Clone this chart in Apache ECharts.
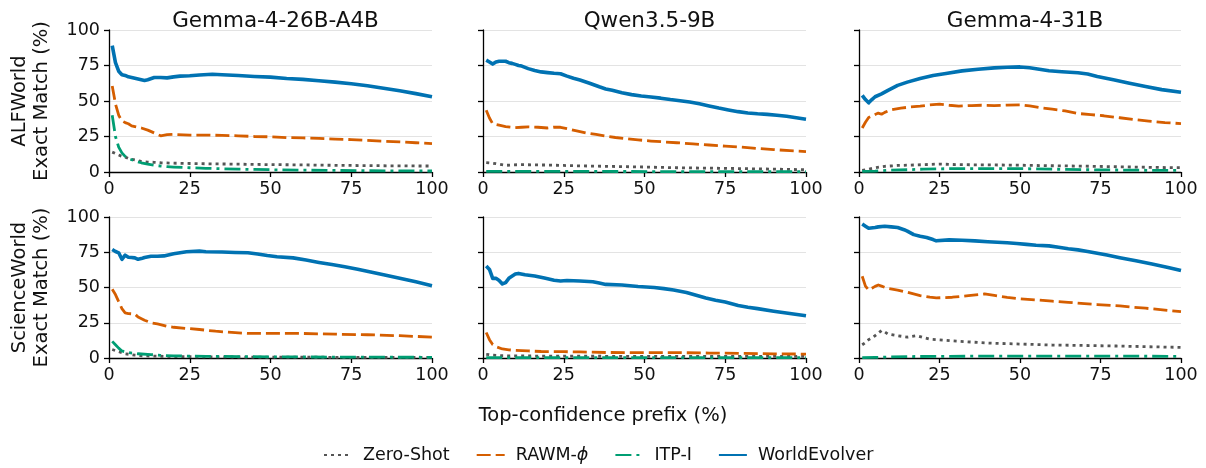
<!DOCTYPE html>
<html>
<head>
<meta charset="utf-8">
<script src="https://cdn.jsdelivr.net/npm/echarts@6/dist/echarts.min.js"></script>
<style>
html,body{margin:0;padding:0;background:#fff;}
#chart{width:1206px;height:468px;}
</style>
</head>
<body>
<div id="chart"></div>
<script>
// ---------- labels ----------
const models = ['Gemma-4-26B-A4B', 'Qwen3.5-9B', 'Gemma-4-31B'];
const envYLabels = ['ALFWorld\nExact Match (%)', 'ScienceWorld\nExact Match (%)'];
const methodNames = ['Zero-Shot', 'RAWM-\u03d5', 'ITP-I', 'WorldEvolver'];
const xTicks = [0, 25, 50, 75, 100];
const yTicks = [0, 25, 50, 75, 100];
const xTitle = 'Top-confidence prefix (%)';

// ---------- ALFWorld / Gemma-4-26B-A4B ----------
const alf26_zero = [[1,14],[2,13],[3,12],[4,11],[5,10.5],[6,9.5],[8,8.5],[10,7.5],[12,7],[14,6.8],[16,6.5],[20,6.2],[25,6],[30,5.8],[40,5.5],[50,5.2],[60,5],[70,4.7],[80,4.5],[90,4.3],[100,4.2]];
const alf26_rawm = [[1,60.5],[2,48],[3,40],[4,36],[5,34.8],[6,34],[7,32.5],[8,32],[10,31],[12,29.5],[14,27.5],[16,25.5],[18,26.3],[20,26.5],[25,26],[30,26],[35,25.8],[40,25.5],[45,25],[50,24.8],[55,24.2],[60,24],[65,23.7],[70,23.2],[75,22.8],[80,22.2],[85,21.7],[90,21.2],[95,20.6],[100,20]];
const alf26_itp = [[1,40],[2,25],[3,17.5],[4,13.5],[5,11],[6,9.5],[8,7.8],[10,6.5],[12,5.5],[14,4.8],[16,4.2],[18,3.8],[20,3.5],[25,3],[30,2.6],[40,2],[50,1.6],[60,1.3],[70,1.1],[80,0.9],[90,0.8],[100,0.7]];
const alf26_we = [[1,89],[2,77],[3,71],[4,68.5],[5,68],[6,67],[8,66],[10,65],[11,64.5],[12,65],[14,66.5],[16,66.5],[18,66.3],[20,67],[22,67.5],[25,67.8],[28,68.3],[32,68.8],[35,68.5],[40,68],[45,67.3],[50,66.8],[55,65.8],[60,65.2],[65,64.3],[70,63.3],[75,62.2],[80,60.8],[85,59],[90,57.2],[95,55.2],[100,53]];

// ---------- ALFWorld / Qwen3.5-9B ----------
const alf9_zero = [[1,6.6],[3,6.2],[5,5.5],[7,4.7],[9,5],[12,5.2],[16,5],[20,4.9],[25,4.6],[30,4.3],[40,3.9],[50,3.5],[60,3],[70,2.7],[80,2.4],[90,2],[100,1.6]];
const alf9_rawm = [[1,43.5],[2,38],[3,34],[5,33],[7,32],[10,31.2],[12,31.5],[14,31.8],[17,31.5],[20,31],[22,31.6],[24,31.5],[26,30.5],[29,29],[32,27.5],[35,26.5],[38,25.3],[41,24.3],[44,23.5],[48,22.6],[52,21.8],[56,21.2],[60,20.6],[65,19.8],[70,19],[75,18.2],[80,17.5],[85,16.6],[90,15.8],[95,15],[100,14.4]];
const alf9_itp = [[1,0.5],[10,0.4],[30,0.4],[60,0.3],[100,0.3]];
const alf9_we = [[1,78.8],[2,77.5],[3,76],[4,77.5],[5,78],[7,78],[8,77],[9,76.5],[10,75.8],[11,75],[12,74.6],[14,72.8],[16,71.5],[18,70.5],[20,70],[22,69.5],[24,69.2],[26,67.5],[28,66],[30,64.8],[33,62.5],[36,60],[38,58.5],[40,57.5],[43,55.8],[46,54.5],[49,53.5],[52,52.8],[55,52],[58,51],[61,50.2],[64,49.3],[67,48],[70,46.5],[73,45],[76,43.7],[79,42.5],[82,41.6],[85,41],[88,40.6],[91,40],[94,39.2],[97,38.2],[100,37.2]];

// ---------- ALFWorld / Gemma-4-31B ----------
const alf31_zero = [[1,1.2],[3,2],[5,3],[8,4],[12,4.6],[18,5],[25,5.6],[30,5.2],[40,5],[50,4.8],[60,4.4],[70,4.1],[80,3.7],[90,3.3],[100,3]];
const alf31_rawm = [[1,31],[2,35],[3,38.4],[5,40.5],[6,41.5],[7,40.7],[8,42],[10,43.8],[13,45],[16,45.8],[19,46.4],[22,47.2],[25,47.8],[28,47],[31,46.4],[35,46.8],[38,47],[42,46.8],[46,47.1],[50,47.3],[53,46.5],[56,45.4],[60,44.2],[64,43],[68,41.2],[72,40.4],[76,39.6],[81,38.2],[86,36.8],[90,35.8],[95,34.8],[100,34.1]];
const alf31_itp = [[1,0.5],[5,0.6],[9,1.2],[15,1.6],[20,2],[29,2.4],[40,2.4],[50,2.4],[60,2],[70,1.6],[80,1.4],[90,1.2],[100,1.2]];
const alf31_we = [[1,54],[2,51],[3,48.7],[4,51],[5,53],[7,55],[9,57.5],[12,61],[15,63.3],[19,65.9],[23,68],[27,69.4],[32,71.2],[37,72.4],[42,73.3],[46,73.8],[50,74],[53,73.4],[56,72.3],[59,71.3],[63,70.6],[68,69.9],[71,69],[74,67.3],[79,65],[84,62.5],[89,60.2],[94,58],[100,56.2]];

// ---------- ScienceWorld / Gemma-4-26B-A4B ----------
const sci26_zero = [[1,6],[3,4.5],[5,3],[8,2],[11,1.5],[20,1],[40,0.7],[70,0.5],[100,0.5]];
const sci26_rawm = [[1,48.7],[2,45],[3,40],[4,35],[5,32],[6,31.5],[8,31.2],[9,29],[11,26.8],[13,25],[15,24.2],[18,22.5],[20,21.8],[24,21],[28,20.2],[33,19],[38,18.1],[43,17.4],[48,17.5],[55,17.5],[60,17.4],[70,16.9],[80,16.5],[90,15.8],[100,14.8]];
const sci26_itp = [[1,11.8],[2,9.4],[3,7],[4,5],[6,3.8],[9,3],[13,2.4],[16,1.9],[20,1.5],[30,1.2],[50,0.8],[75,0.6],[100,0.5]];
const sci26_we = [[1,76.9],[2,75.5],[3,74.6],[4,70],[5,72.9],[6,71.5],[7,71.3],[8,71],[9,70],[10,70.5],[11,71.3],[13,72.2],[15,72.2],[17,72.4],[20,74],[24,75.3],[28,75.8],[30,75.4],[35,75.2],[39,74.8],[43,74.6],[46,73.8],[49,72.7],[52,71.8],[57,71],[61,69.5],[65,67.8],[69,66.3],[73,64.7],[77,63],[81,61],[85,59],[90,56.5],[95,54],[100,51.3]];

// ---------- ScienceWorld / Qwen3.5-9B ----------
const sci9_zero = [[1,2.6],[3,2],[6,1.6],[15,1.4],[40,1.2],[70,1.1],[100,1.1]];
const sci9_rawm = [[1,18.1],[2,13],[3,9.5],[4,8],[6,6.4],[8,5.8],[10,5.4],[14,5],[18,4.6],[25,4.5],[30,4.3],[38,3.9],[50,3.8],[60,3.8],[70,3.5],[80,3.3],[90,2.9],[100,2.8]];
const sci9_itp = [[1,0.3],[30,0.3],[60,0.3],[100,0.3]];
const sci9_we = [[1,65.2],[2,62.8],[3,56.5],[4,56.5],[5,55],[6,52.5],[7,53.5],[8,56.5],[10,59.5],[11,60],[13,59],[16,58.2],[19,56.8],[22,55.2],[24,54.6],[26,55],[30,54.6],[34,54.1],[36,53.2],[38,52.2],[43,51.8],[48,50.7],[53,50],[56,49.2],[59,48.2],[63,46.5],[66,44.5],[69,42.5],[72,41],[75,39.7],[79,37.3],[82,36],[85,35],[90,33.2],[95,31.5],[100,29.9]];

// ---------- ScienceWorld / Gemma-4-31B ----------
const sci31_zero = [[1,9.4],[2,11],[3,13],[5,15.8],[7,19.5],[8,18.5],[9,16.9],[12,15.8],[15,14.8],[18,15.8],[20,14.5],[22,13.4],[29,12.2],[35,11.3],[40,10.6],[50,9.9],[60,9.2],[70,8.9],[80,8.5],[90,8],[100,7.5]];
const sci31_rawm = [[1,58],[2,51],[3,48.2],[4,49.5],[5,50.8],[6,51.8],[7,51],[9,49.3],[12,48.2],[15,46.6],[19,44.2],[22,43.1],[24,42.6],[29,43.1],[34,44.2],[37,45],[39,45.4],[42,44.4],[46,43],[50,42],[55,41.2],[60,40.3],[65,39.5],[70,38.5],[74,37.9],[81,36.9],[85,36],[89,35.3],[95,34],[100,32.9]];
const sci31_itp = [[1,0.3],[5,0.4],[9,0.7],[15,1],[25,1.2],[40,1.3],[60,1.4],[80,1.3],[100,1.2]];
const sci31_we = [[1,95],[2,93.5],[3,92],[5,92.5],[6,93],[8,93.4],[10,93],[12,92.5],[14,91],[15,90],[17,87.5],[19,86.4],[21,85.5],[23,84],[24,83.1],[28,83.8],[32,83.5],[36,83.1],[40,82.5],[43,82.1],[46,81.7],[49,81.2],[52,80.6],[55,80],[59,79.5],[62,78.5],[65,77.5],[68,76.7],[71,75.6],[74,74.3],[77,73],[81,71.1],[86,68.9],[91,66.6],[96,64.2],[100,62]];

const panelData = [
  [alf26_zero, alf26_rawm, alf26_itp, alf26_we],
  [alf9_zero, alf9_rawm, alf9_itp, alf9_we],
  [alf31_zero, alf31_rawm, alf31_itp, alf31_we],
  [sci26_zero, sci26_rawm, sci26_itp, sci26_we],
  [sci9_zero, sci9_rawm, sci9_itp, sci9_we],
  [sci31_zero, sci31_rawm, sci31_itp, sci31_we]
];

// ---------- styling ----------
const FONT = 'DejaVu Sans';
const colors = ['#555555', '#d55e00', '#009e73', '#0072b2'];
const lineStyles = [
  {width: 2.8, type: [3, 4]},
  {width: 2.8, type: [14, 5]},
  {width: 2.8, type: [16, 5, 3, 5]},
  {width: 3.6, type: 'solid'}
];
const colLeft = [109, 483, 859];
const colWidth = [323, 323, 322];
const rowTop = [30, 217];
const rowHeight = [142, 141];

const grid = [], xAxis = [], yAxis = [], series = [], title = [];
for (let r = 0; r < 2; r++) {
  for (let c = 0; c < 3; c++) {
    const i = r * 3 + c;
    grid.push({left: colLeft[c], top: rowTop[r], width: colWidth[c], height: rowHeight[r], containLabel: false});
    xAxis.push({
      type: 'value', gridIndex: i, min: xTicks[0], max: xTicks[xTicks.length - 1], interval: 25,
      axisLine: {show: true, onZero: false, lineStyle: {color: '#000', width: 1.3}},
      axisTick: {show: true, inside: false, length: 5, lineStyle: {color: '#000', width: 1.3}},
      axisLabel: {show: true, margin: 8, fontFamily: FONT, fontSize: 17.5, color: '#111'},
      splitLine: {show: false}
    });
    yAxis.push({
      type: 'value', gridIndex: i, min: yTicks[0], max: yTicks[yTicks.length - 1], interval: 25,
      name: c === 0 ? envYLabels[r] : '',
      nameLocation: 'middle', nameGap: 56, nameRotate: 90,
      nameTextStyle: {fontFamily: FONT, fontSize: 19.5, color: '#111', lineHeight: 22},
      axisLine: {show: true, onZero: false, lineStyle: {color: '#000', width: 1.3}},
      axisTick: {show: true, inside: false, length: 5, lineStyle: {color: '#000', width: 1.3}},
      axisLabel: {show: c === 0, margin: 9, fontFamily: FONT, fontSize: 17.5, color: '#111'},
      splitLine: {show: true, lineStyle: {color: '#e3e3e3', width: 1}}
    });
    if (r === 0) {
      title.push({
        text: models[c], left: colLeft[c] + colWidth[c] / 2, top: 5, textAlign: 'center',
        textStyle: {fontFamily: FONT, fontSize: 21.5, fontWeight: 'normal', color: '#111'}
      });
    }
    for (let m = 0; m < 4; m++) {
      series.push({
        type: 'line', name: methodNames[m], xAxisIndex: i, yAxisIndex: i,
        data: panelData[i][m], showSymbol: false, symbol: 'none', smooth: false,
        color: colors[m], z: 2 + m,
        lineStyle: Object.assign({color: colors[m], cap: 'butt', join: 'round'}, lineStyles[m]),
        emphasis: {disabled: true}, animation: false
      });
    }
  }
}
title.push({
  text: xTitle, left: 598, top: 401, textAlign: 'center',
  textStyle: {fontFamily: FONT, fontSize: 19.5, fontWeight: 'normal', color: '#111'}
});

const chart = echarts.init(document.getElementById('chart'), null, {renderer: 'canvas'});
chart.setOption({
  animation: false,
  backgroundColor: '#fff',
  title: title,
  grid: grid,
  xAxis: xAxis,
  yAxis: yAxis,
  legend: {
    data: methodNames, left: 323, top: 446, padding: 0, itemWidth: 28, itemHeight: 14, itemGap: 26,
    itemStyle: {opacity: 0},
    textStyle: {fontFamily: FONT, fontSize: 17.5, color: '#111', padding: [0, 0, 0, 6],
      rich: {it: {fontStyle: 'italic', fontFamily: FONT, fontSize: 17.5, color: '#111'}}},
    formatter: function (name) { return name === 'RAWM-\u03d5' ? 'RAWM-{it|\u03d5}' : name; }
  },
  series: series
});
</script>
</body>
</html>
